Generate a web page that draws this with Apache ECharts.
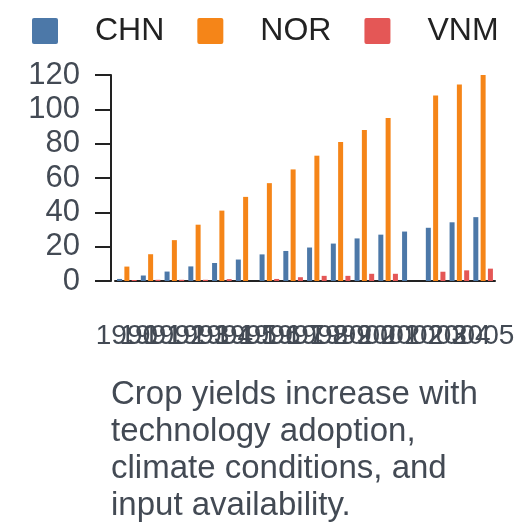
<!DOCTYPE html>
<html>
<head>
    <meta charset="utf-8">
    <title>Crop yields</title>
    <script src="https://cdn.jsdelivr.net/npm/echarts@6/dist/echarts.min.js"></script>
    <style>
        html, body { margin: 0; padding: 0; background: #fff; }
        #chart { width: 528px; height: 528px; }
    </style>
</head>
<body>
<div id="chart"></div>
<script>
  // 数据
  var years = ['1990', '1991', '1992', '1993', '1994', '1995', '1996', '1997',
               '1998', '1999', '2000', '2001', '2002', '2003', '2004', '2005'];
  var chn = [1.2, 3.2, 5.5, 8.5, 10.5, 12.5, 15.5, 17.5, 19.5, 21.8, 24.8, 27, 28.8, 31, 34.2, 37.2];
  var nor = [8.4, 15.6, 23.8, 32.8, 41, 49, 57, 65, 73, 81, 88, 95, null, 108, 114.5, 120];
  var vnm = [0.6, 0.7, 0.7, 0.7, 1.1, null, 1.2, 2.2, 3, 3, 4.2, 4.2, null, 5.4, 6.2, 7.2];

  var font = 'Liberation Sans, Arial, sans-serif';
  // 图例方块，小圆角
  var legendIcon = 'path://M2,0H24Q26,0 26,2V24Q26,26 24,26H2Q0,26 0,24V2Q0,0 2,0Z';
  var myChart = echarts.init(document.getElementById('chart'));

  myChart.setOption({
      animation: false,
      title: {
          text: 'Crop yields increase with\ntechnology adoption,\nclimate conditions, and\ninput availability.',
          left: 106,
          top: 371,
          textStyle: {
              fontFamily: font,
              fontSize: 33,
              fontWeight: 'normal',
              color: '#434a54',
              lineHeight: 37
          }
      },
      legend: {
          top: 15,
          left: 32,
          padding: 0,
          itemWidth: 26,
          itemHeight: 26,
          itemGap: 33,
          icon: legendIcon,
          textStyle: {
              fontFamily: font,
              fontSize: 32,
              color: '#222',
              padding: [0, 0, 0, 32]
          },
          data: ['CHN', 'NOR', 'VNM']
      },
      grid: {
          left: 115,
          right: 33,
          top: 75,
          bottom: 247
      },
      xAxis: {
          type: 'category',
          data: years,
          axisLine: { lineStyle: { color: '#222', width: 2 } },
          axisTick: { length: 18, lineStyle: { color: '#222', width: 2 } },
          axisLabel: {
              interval: 0,
              margin: 41,
              fontFamily: font,
              fontSize: 28,
              color: '#434a54'
          }
      },
      yAxis: {
          type: 'value',
          min: 0,
          max: 120,
          interval: 20,
          offset: 4,
          axisLine: { show: true, lineStyle: { color: '#222', width: 2 } },
          axisTick: { show: true, length: 16, lineStyle: { color: '#222', width: 2 } },
          splitLine: { show: false },
          axisLabel: {
              margin: 31,
              fontFamily: font,
              fontSize: 31,
              color: '#434a54'
          }
      },
      series: [
          { name: 'CHN', type: 'bar', data: chn, barWidth: 5, barGap: '46%', itemStyle: { color: '#4c78a8' } },
          { name: 'NOR', type: 'bar', data: nor, barWidth: 5, barGap: '46%', itemStyle: { color: '#f58518' } },
          { name: 'VNM', type: 'bar', data: vnm, barWidth: 5, barGap: '46%', itemStyle: { color: '#e45756' } }
      ]
  });
</script>
</body>
</html>
